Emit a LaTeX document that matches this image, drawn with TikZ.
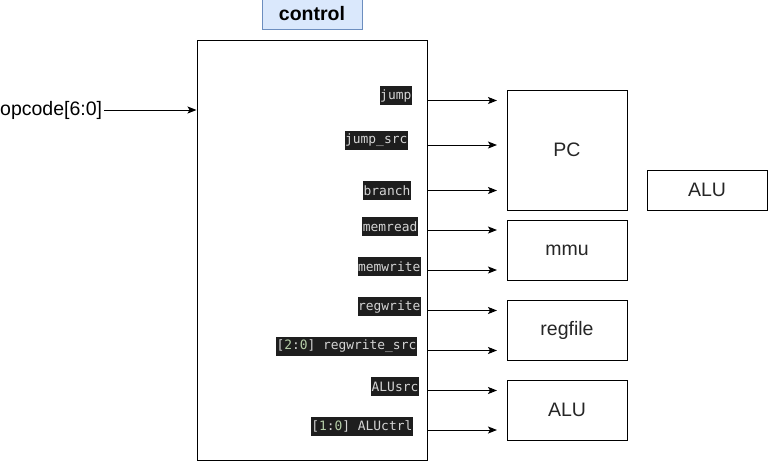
\documentclass[tikz,border=0pt]{standalone}
\usepackage{fontspec}
\setmainfont{Liberation Sans}
\setmonofont{DejaVu Sans Mono}
\usepackage{xcolor}
\usetikzlibrary{arrows.meta, positioning}

\definecolor{codebg}{HTML}{1E1E1E}
\definecolor{codefg}{HTML}{D4D4D4}
\definecolor{codenum}{HTML}{B5CEA8}
\definecolor{titlefill}{HTML}{DAE8FC}
\definecolor{titledraw}{HTML}{6C8EBF}

% Bit range such as [2:0], digits coloured like an editor would
\newcommand{\bitrange}[2]{[\textcolor{codenum}{#1}:\textcolor{codenum}{#2}]}

\begin{document}
\begin{tikzpicture}[x=1pt, y=-1pt,
    block/.style={draw, line width=1pt, minimum width=120pt, inner sep=0pt,
        font=\fontsize{19.5}{22}\selectfont, text=black!85},
    titlebox/.style={draw=titledraw, fill=titlefill, line width=1pt,
        minimum width=100pt, minimum height=30pt, inner sep=0pt,
        font=\bfseries\fontsize{19.5}{22}\selectfont},
    siglabel/.style={fill=codebg, text=codefg, inner xsep=0.5pt, inner ysep=0pt,
        minimum height=19pt, anchor=east,
        font=\ttfamily\fontsize{12.9}{15}\selectfont},
    sigarrow/.style={-{Stealth[length=9pt, width=7pt, inset=2pt]}, line width=1pt}]

% Canvas
\fill[white] (0,0) rectangle (768,461);
\useasboundingbox (0,0) rectangle (768,461);

% Control unit and its title
\node[draw, line width=1pt, minimum width=230pt, minimum height=420pt] (ctrl) at (312,250) {};
\node[titlebox, above=10pt of ctrl] (title) {control};

% Input
\node[font=\fontsize{19.5}{22}\selectfont, inner xsep=2pt, inner ysep=0pt, anchor=west] (opcode) at (-2,110) {opcode[6:0]};
\draw[sigarrow] (opcode.east) -- (ctrl.west |- opcode.east);

% Target blocks
\node[block, minimum height=120pt] (pc) at (567,150) {PC};
\node[block, minimum height=60pt] (mmu) at (567,250) {mmu};
\node[block, minimum height=60pt] (regfile) at (567,330) {regfile};
\node[block, minimum height=60pt] (alu) at (567,410) {ALU};
\node[block, minimum height=40pt] (alux) at (707,190) {ALU};

% Control signals: name / label y / arrow y / label right edge / text
\foreach \nm/\ly/\ay/\lx/\txt in {
    jump/95.5/100.5/412/{jump},
    jumpsrc/140.5/145/408/{jump\_src},
    branch/190.5/190.5/411/{branch},
    memread/226.5/230/418/{memread},
    memwrite/266.5/270/421/{memwrite},
    regwrite/306.5/310.5/421/{regwrite},
    regwritesrc/346.5/350.5/417/{\bitrange{2}{0} regwrite\_src},
    alusrc/386.5/390.5/419/{ALUsrc},
    aluctrl/426.5/430/413/{\bitrange{1}{0} ALUctrl}}
{
    \node[siglabel] (\nm) at (\lx,\ly) {\txt};
    \coordinate (tip\nm) at (497,\ay);
    \draw[sigarrow] (ctrl.east |- tip\nm) -- (tip\nm);
}

\end{tikzpicture}
\end{document}
